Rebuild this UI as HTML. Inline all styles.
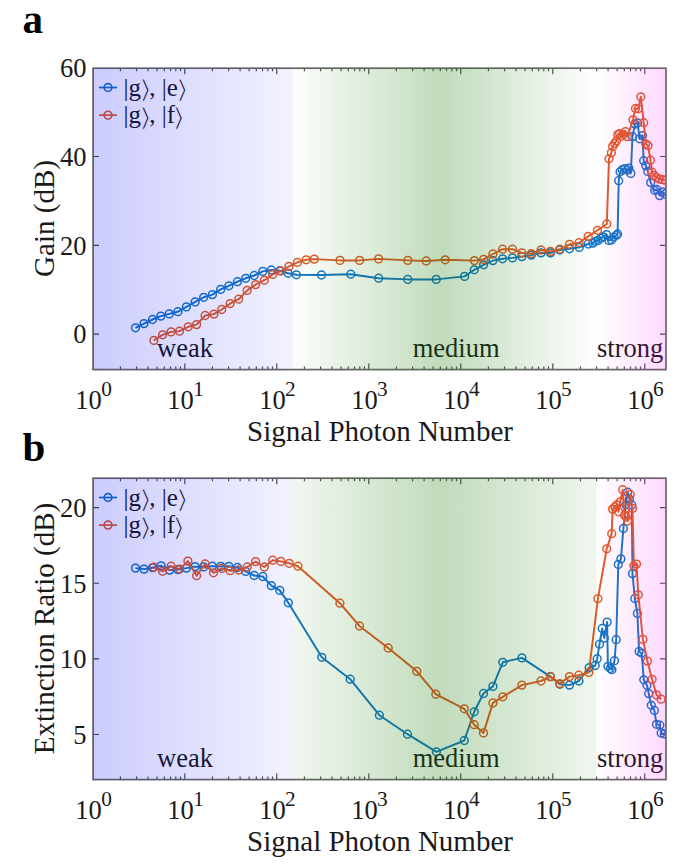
<!DOCTYPE html>
<html><head><meta charset="utf-8"><title>Figure</title>
<style>html,body{margin:0;padding:0;background:#fff}svg{display:block}</style></head>
<body>
<svg width="684" height="866" viewBox="0 0 684 866">
<defs>
<linearGradient id="gb" x1="0" x2="1" y1="0" y2="0"><stop offset="0" stop-color="#0000fa" stop-opacity="0.2"/><stop offset="1" stop-color="#0000fa" stop-opacity="0.05"/></linearGradient>
<linearGradient id="gg1" x1="0" x2="1" y1="0" y2="0"><stop offset="0" stop-color="#147800" stop-opacity="0.01"/><stop offset="0.49" stop-color="#147800" stop-opacity="0.265"/><stop offset="1" stop-color="#147800" stop-opacity="0"/></linearGradient>
<linearGradient id="gg2" x1="0" x2="1" y1="0" y2="0"><stop offset="0" stop-color="#147800" stop-opacity="0.06"/><stop offset="0.49" stop-color="#147800" stop-opacity="0.265"/><stop offset="1" stop-color="#147800" stop-opacity="0.065"/></linearGradient>
<linearGradient id="gp" x1="0" x2="1" y1="0" y2="0"><stop offset="0" stop-color="#ff00ff" stop-opacity="0"/><stop offset="1" stop-color="#ff00ff" stop-opacity="0.15"/></linearGradient>
<clipPath id="ca"><rect x="93.0" y="68.2" width="572.9" height="301.4"/></clipPath><clipPath id="cb"><rect x="93.0" y="478.2" width="572.9" height="301.4"/></clipPath>
</defs>
<style>
text{font-family:"Liberation Serif","DejaVu Serif",serif;fill:#1a1a1a}
.tk{font-size:26.5px}
.lb{font-size:29px}
.lg{font-size:25px}
.rg{font-size:26.5px}
.pn{font-size:41px;font-weight:bold;fill:#000}
.kt{font-family:"DejaVu Sans",sans-serif;font-size:25px;stroke:#fff;stroke-width:1.0px}
</style>
<rect width="684" height="866" fill="#fff"/>
<g stroke="#474747" stroke-width="1.15" fill="none"><path d="M120.4 369.6v-3M120.4 68.2v3"/><path d="M136.6 369.6v-3M136.6 68.2v3"/><path d="M148.1 369.6v-3M148.1 68.2v3"/><path d="M157.1 369.6v-3M157.1 68.2v3"/><path d="M164.3 369.6v-3M164.3 68.2v3"/><path d="M170.5 369.6v-3M170.5 68.2v3"/><path d="M175.8 369.6v-3M175.8 68.2v3"/><path d="M180.5 369.6v-3M180.5 68.2v3"/><path d="M184.8 369.6v-6M184.8 68.2v6"/><path d="M212.4 369.6v-3M212.4 68.2v3"/><path d="M228.6 369.6v-3M228.6 68.2v3"/><path d="M240.1 369.6v-3M240.1 68.2v3"/><path d="M249.1 369.6v-3M249.1 68.2v3"/><path d="M256.3 369.6v-3M256.3 68.2v3"/><path d="M262.5 369.6v-3M262.5 68.2v3"/><path d="M267.8 369.6v-3M267.8 68.2v3"/><path d="M272.5 369.6v-3M272.5 68.2v3"/><path d="M276.8 369.6v-6M276.8 68.2v6"/><path d="M304.4 369.6v-3M304.4 68.2v3"/><path d="M320.6 369.6v-3M320.6 68.2v3"/><path d="M332.1 369.6v-3M332.1 68.2v3"/><path d="M341.1 369.6v-3M341.1 68.2v3"/><path d="M348.3 369.6v-3M348.3 68.2v3"/><path d="M354.5 369.6v-3M354.5 68.2v3"/><path d="M359.8 369.6v-3M359.8 68.2v3"/><path d="M364.5 369.6v-3M364.5 68.2v3"/><path d="M368.8 369.6v-6M368.8 68.2v6"/><path d="M396.4 369.6v-3M396.4 68.2v3"/><path d="M412.6 369.6v-3M412.6 68.2v3"/><path d="M424.1 369.6v-3M424.1 68.2v3"/><path d="M433.1 369.6v-3M433.1 68.2v3"/><path d="M440.3 369.6v-3M440.3 68.2v3"/><path d="M446.5 369.6v-3M446.5 68.2v3"/><path d="M451.8 369.6v-3M451.8 68.2v3"/><path d="M456.5 369.6v-3M456.5 68.2v3"/><path d="M460.8 369.6v-6M460.8 68.2v6"/><path d="M488.4 369.6v-3M488.4 68.2v3"/><path d="M504.6 369.6v-3M504.6 68.2v3"/><path d="M516.1 369.6v-3M516.1 68.2v3"/><path d="M525.1 369.6v-3M525.1 68.2v3"/><path d="M532.3 369.6v-3M532.3 68.2v3"/><path d="M538.5 369.6v-3M538.5 68.2v3"/><path d="M543.8 369.6v-3M543.8 68.2v3"/><path d="M548.5 369.6v-3M548.5 68.2v3"/><path d="M552.8 369.6v-6M552.8 68.2v6"/><path d="M580.4 369.6v-3M580.4 68.2v3"/><path d="M596.6 369.6v-3M596.6 68.2v3"/><path d="M608.1 369.6v-3M608.1 68.2v3"/><path d="M617.1 369.6v-3M617.1 68.2v3"/><path d="M624.3 369.6v-3M624.3 68.2v3"/><path d="M630.5 369.6v-3M630.5 68.2v3"/><path d="M635.8 369.6v-3M635.8 68.2v3"/><path d="M640.5 369.6v-3M640.5 68.2v3"/><path d="M644.8 369.6v-6M644.8 68.2v6"/><path d="M93.0 334.1h6M666.0 334.1h-6"/><path d="M93.0 245.3h6M666.0 245.3h-6"/><path d="M93.0 156.5h6M666.0 156.5h-6"/></g>
<rect x="93.05" y="68.20" width="572.90" height="301.40" fill="none" stroke="#666" stroke-width="1.7"/>
<g clip-path="url(#ca)"><polyline fill="none" stroke="#1276c6" stroke-width="1.95" stroke-linejoin="round" points="135.5,327.8 144.0,323.6 152.5,319.5 160.8,316.1 169.3,313.9 177.9,311.7 186.4,306.9 195.2,301.9 203.7,297.3 212.4,294.6 220.7,289.4 228.9,285.8 237.4,281.7 245.7,278.3 254.2,275.5 262.8,271.4 271.3,270.0 279.8,270.7 288.1,273.3 296.4,274.8 321.5,275.0 350.8,274.2 378.6,278.2 407.8,279.4 436.2,279.4 464.6,276.4 474.3,269.8 483.6,264.8 492.9,260.6 502.6,258.8 512.5,257.9 521.9,256.6 531.3,255.1 541.0,252.9 550.4,252.9 559.8,250.0 569.5,248.8 579.3,247.4 588.3,244.0 592.8,243.1 595.4,241.3 598.1,240.4 600.7,238.2 603.3,236.9 606.5,234.6 608.8,240.4 611.5,240.0 613.9,237.0 616.5,235.2 617.6,234.0 618.7,180.7 620.1,171.8 622.2,169.7 624.7,168.6 627.1,170.2 628.9,168.2 630.8,173.4 632.5,136.6 635.0,124.1 637.6,123.0 639.6,138.8 642.5,135.6 643.7,160.7 645.7,165.6 647.8,171.4 650.7,182.6 654.7,190.4 656.8,189.5 659.6,195.6 662.6,191.9 664.9,194.0"/>
<g fill="none" stroke="#1276c6" stroke-width="1.5"><circle cx="135.5" cy="327.8" r="3.9"/><circle cx="144.0" cy="323.6" r="3.9"/><circle cx="152.5" cy="319.5" r="3.9"/><circle cx="160.8" cy="316.1" r="3.9"/><circle cx="169.3" cy="313.9" r="3.9"/><circle cx="177.9" cy="311.7" r="3.9"/><circle cx="186.4" cy="306.9" r="3.9"/><circle cx="195.2" cy="301.9" r="3.9"/><circle cx="203.7" cy="297.3" r="3.9"/><circle cx="212.4" cy="294.6" r="3.9"/><circle cx="220.7" cy="289.4" r="3.9"/><circle cx="228.9" cy="285.8" r="3.9"/><circle cx="237.4" cy="281.7" r="3.9"/><circle cx="245.7" cy="278.3" r="3.9"/><circle cx="254.2" cy="275.5" r="3.9"/><circle cx="262.8" cy="271.4" r="3.9"/><circle cx="271.3" cy="270.0" r="3.9"/><circle cx="279.8" cy="270.7" r="3.9"/><circle cx="288.1" cy="273.3" r="3.9"/><circle cx="296.4" cy="274.8" r="3.9"/><circle cx="321.5" cy="275.0" r="3.9"/><circle cx="350.8" cy="274.2" r="3.9"/><circle cx="378.6" cy="278.2" r="3.9"/><circle cx="407.8" cy="279.4" r="3.9"/><circle cx="436.2" cy="279.4" r="3.9"/><circle cx="464.6" cy="276.4" r="3.9"/><circle cx="474.3" cy="269.8" r="3.9"/><circle cx="483.6" cy="264.8" r="3.9"/><circle cx="492.9" cy="260.6" r="3.9"/><circle cx="502.6" cy="258.8" r="3.9"/><circle cx="512.5" cy="257.9" r="3.9"/><circle cx="521.9" cy="256.6" r="3.9"/><circle cx="531.3" cy="255.1" r="3.9"/><circle cx="541.0" cy="252.9" r="3.9"/><circle cx="550.4" cy="252.9" r="3.9"/><circle cx="559.8" cy="250.0" r="3.9"/><circle cx="569.5" cy="248.8" r="3.9"/><circle cx="579.3" cy="247.4" r="3.9"/><circle cx="588.3" cy="244.0" r="3.9"/><circle cx="592.8" cy="243.1" r="3.9"/><circle cx="595.4" cy="241.3" r="3.9"/><circle cx="598.1" cy="240.4" r="3.9"/><circle cx="600.7" cy="238.2" r="3.9"/><circle cx="603.3" cy="236.9" r="3.9"/><circle cx="606.5" cy="234.6" r="3.9"/><circle cx="608.8" cy="240.4" r="3.9"/><circle cx="611.5" cy="240.0" r="3.9"/><circle cx="613.9" cy="237.0" r="3.9"/><circle cx="616.5" cy="235.2" r="3.9"/><circle cx="617.6" cy="234.0" r="3.9"/><circle cx="618.7" cy="180.7" r="3.9"/><circle cx="620.1" cy="171.8" r="3.9"/><circle cx="622.2" cy="169.7" r="3.9"/><circle cx="624.7" cy="168.6" r="3.9"/><circle cx="627.1" cy="170.2" r="3.9"/><circle cx="628.9" cy="168.2" r="3.9"/><circle cx="630.8" cy="173.4" r="3.9"/><circle cx="632.5" cy="136.6" r="3.9"/><circle cx="635.0" cy="124.1" r="3.9"/><circle cx="637.6" cy="123.0" r="3.9"/><circle cx="639.6" cy="138.8" r="3.9"/><circle cx="642.5" cy="135.6" r="3.9"/><circle cx="643.7" cy="160.7" r="3.9"/><circle cx="645.7" cy="165.6" r="3.9"/><circle cx="647.8" cy="171.4" r="3.9"/><circle cx="650.7" cy="182.6" r="3.9"/><circle cx="654.7" cy="190.4" r="3.9"/><circle cx="656.8" cy="189.5" r="3.9"/><circle cx="659.6" cy="195.6" r="3.9"/><circle cx="662.6" cy="191.9" r="3.9"/><circle cx="664.9" cy="194.0" r="3.9"/></g>
<polyline fill="none" stroke="#e05a25" stroke-width="1.95" stroke-linejoin="round" points="153.9,340.4 162.6,334.8 171.1,331.9 179.5,331.2 188.2,326.8 196.6,324.6 205.1,315.5 213.9,314.1 221.7,309.5 230.1,303.6 238.7,299.2 247.2,290.4 255.6,284.6 264.3,280.2 272.7,274.4 280.8,271.0 289.0,266.4 297.4,262.4 306.2,259.8 314.3,259.1 340.0,260.4 359.6,260.4 378.6,258.9 407.8,260.4 426.2,261.0 445.2,259.8 474.4,260.6 483.6,259.4 492.9,254.0 502.6,249.2 512.5,249.2 521.9,252.9 531.3,253.6 541.0,250.0 550.4,251.4 559.8,249.2 569.5,244.3 579.0,242.7 588.2,236.4 597.5,230.3 606.8,224.0 609.0,158.8 611.4,152.7 612.7,146.4 614.7,143.4 616.5,140.8 617.8,134.6 619.6,133.6 621.3,136.3 623.4,134.3 625.4,131.7 627.5,136.6 633.0,119.8 635.5,108.5 638.2,108.8 640.8,96.8 643.7,122.7 645.7,143.8 648.0,145.6 650.5,160.2 652.0,172.2 654.0,175.4 656.4,177.5 659.3,179.0 662.6,179.7 665.5,180.4"/>
<g fill="none" stroke="#e05a25" stroke-width="1.5"><circle cx="153.9" cy="340.4" r="3.9"/><circle cx="162.6" cy="334.8" r="3.9"/><circle cx="171.1" cy="331.9" r="3.9"/><circle cx="179.5" cy="331.2" r="3.9"/><circle cx="188.2" cy="326.8" r="3.9"/><circle cx="196.6" cy="324.6" r="3.9"/><circle cx="205.1" cy="315.5" r="3.9"/><circle cx="213.9" cy="314.1" r="3.9"/><circle cx="221.7" cy="309.5" r="3.9"/><circle cx="230.1" cy="303.6" r="3.9"/><circle cx="238.7" cy="299.2" r="3.9"/><circle cx="247.2" cy="290.4" r="3.9"/><circle cx="255.6" cy="284.6" r="3.9"/><circle cx="264.3" cy="280.2" r="3.9"/><circle cx="272.7" cy="274.4" r="3.9"/><circle cx="280.8" cy="271.0" r="3.9"/><circle cx="289.0" cy="266.4" r="3.9"/><circle cx="297.4" cy="262.4" r="3.9"/><circle cx="306.2" cy="259.8" r="3.9"/><circle cx="314.3" cy="259.1" r="3.9"/><circle cx="340.0" cy="260.4" r="3.9"/><circle cx="359.6" cy="260.4" r="3.9"/><circle cx="378.6" cy="258.9" r="3.9"/><circle cx="407.8" cy="260.4" r="3.9"/><circle cx="426.2" cy="261.0" r="3.9"/><circle cx="445.2" cy="259.8" r="3.9"/><circle cx="474.4" cy="260.6" r="3.9"/><circle cx="483.6" cy="259.4" r="3.9"/><circle cx="492.9" cy="254.0" r="3.9"/><circle cx="502.6" cy="249.2" r="3.9"/><circle cx="512.5" cy="249.2" r="3.9"/><circle cx="521.9" cy="252.9" r="3.9"/><circle cx="531.3" cy="253.6" r="3.9"/><circle cx="541.0" cy="250.0" r="3.9"/><circle cx="550.4" cy="251.4" r="3.9"/><circle cx="559.8" cy="249.2" r="3.9"/><circle cx="569.5" cy="244.3" r="3.9"/><circle cx="579.0" cy="242.7" r="3.9"/><circle cx="588.2" cy="236.4" r="3.9"/><circle cx="597.5" cy="230.3" r="3.9"/><circle cx="606.8" cy="224.0" r="3.9"/><circle cx="609.0" cy="158.8" r="3.9"/><circle cx="611.4" cy="152.7" r="3.9"/><circle cx="612.7" cy="146.4" r="3.9"/><circle cx="614.7" cy="143.4" r="3.9"/><circle cx="616.5" cy="140.8" r="3.9"/><circle cx="617.8" cy="134.6" r="3.9"/><circle cx="619.6" cy="133.6" r="3.9"/><circle cx="621.3" cy="136.3" r="3.9"/><circle cx="623.4" cy="134.3" r="3.9"/><circle cx="625.4" cy="131.7" r="3.9"/><circle cx="627.5" cy="136.6" r="3.9"/><circle cx="633.0" cy="119.8" r="3.9"/><circle cx="635.5" cy="108.5" r="3.9"/><circle cx="638.2" cy="108.8" r="3.9"/><circle cx="640.8" cy="96.8" r="3.9"/><circle cx="643.7" cy="122.7" r="3.9"/><circle cx="645.7" cy="143.8" r="3.9"/><circle cx="648.0" cy="145.6" r="3.9"/><circle cx="650.5" cy="160.2" r="3.9"/><circle cx="652.0" cy="172.2" r="3.9"/><circle cx="654.0" cy="175.4" r="3.9"/><circle cx="656.4" cy="177.5" r="3.9"/><circle cx="659.3" cy="179.0" r="3.9"/><circle cx="662.6" cy="179.7" r="3.9"/><circle cx="665.5" cy="180.4" r="3.9"/></g>
</g>
<text x="86.5" y="343.4" class="tk" text-anchor="end">0</text><text x="86.5" y="254.6" class="tk" text-anchor="end">20</text><text x="86.5" y="165.8" class="tk" text-anchor="end">40</text><text x="86.5" y="77.0" class="tk" text-anchor="end">60</text>
<text x="75.2" y="409.0" class="tk">10<tspan x="101.2" y="395.5" font-size="21.3">0</tspan></text><text x="167.2" y="409.0" class="tk">10<tspan x="193.2" y="395.5" font-size="21.3">1</tspan></text><text x="259.2" y="409.0" class="tk">10<tspan x="285.1" y="395.5" font-size="21.3">2</tspan></text><text x="351.2" y="409.0" class="tk">10<tspan x="377.1" y="395.5" font-size="21.3">3</tspan></text><text x="443.2" y="409.0" class="tk">10<tspan x="469.1" y="395.5" font-size="21.3">4</tspan></text><text x="535.2" y="409.0" class="tk">10<tspan x="561.1" y="395.5" font-size="21.3">5</tspan></text><text x="627.2" y="409.0" class="tk">10<tspan x="653.1" y="395.5" font-size="21.3">6</tspan></text>
<path d="M99 87.5h18" stroke="#1276c6" stroke-width="1.7" fill="none"/><circle cx="108" cy="87.5" r="3.9" fill="none" stroke="#1276c6" stroke-width="1.65"/><text x="123.5" y="95.8" class="lg">|g</text><text transform="translate(138.8 98.0) scale(1.4 1)" class="kt">⟩</text><text x="149.3" y="95.8" class="lg">, |e</text><text transform="translate(175.6 98.0) scale(1.4 1)" class="kt">⟩</text><path d="M99 115.1h18" stroke="#e05a25" stroke-width="1.7" fill="none"/><circle cx="108" cy="115.1" r="3.9" fill="none" stroke="#e05a25" stroke-width="1.65"/><text x="123.5" y="123.4" class="lg">|g</text><text transform="translate(138.8 125.6) scale(1.4 1)" class="kt">⟩</text><text x="149.3" y="123.4" class="lg">, |f</text><text transform="translate(172.0 125.6) scale(1.4 1)" class="kt">⟩</text>
<text x="157" y="357.4" class="rg">weak</text><text x="412.7" y="357.4" class="rg">medium</text><text x="597" y="357.4" class="rg">strong</text>
<rect x="93.0" y="68.2" width="199.9" height="301.4" fill="url(#gb)"/><rect x="293" y="68.2" width="303.5" height="301.4" fill="url(#gg1)"/><rect x="596.5" y="68.2" width="69.5" height="301.4" fill="url(#gp)"/>
<text x="380" y="440.7" class="lb" text-anchor="middle">Signal Photon Number</text>
<text transform="translate(53.5 218.5) rotate(-90)" class="lb" text-anchor="middle">Gain (dB)</text>
<text x="22.5" y="32.7" class="pn">a</text>
<g stroke="#474747" stroke-width="1.15" fill="none"><path d="M120.4 779.6v-3M120.4 478.2v3"/><path d="M136.6 779.6v-3M136.6 478.2v3"/><path d="M148.1 779.6v-3M148.1 478.2v3"/><path d="M157.1 779.6v-3M157.1 478.2v3"/><path d="M164.3 779.6v-3M164.3 478.2v3"/><path d="M170.5 779.6v-3M170.5 478.2v3"/><path d="M175.8 779.6v-3M175.8 478.2v3"/><path d="M180.5 779.6v-3M180.5 478.2v3"/><path d="M184.8 779.6v-6M184.8 478.2v6"/><path d="M212.4 779.6v-3M212.4 478.2v3"/><path d="M228.6 779.6v-3M228.6 478.2v3"/><path d="M240.1 779.6v-3M240.1 478.2v3"/><path d="M249.1 779.6v-3M249.1 478.2v3"/><path d="M256.3 779.6v-3M256.3 478.2v3"/><path d="M262.5 779.6v-3M262.5 478.2v3"/><path d="M267.8 779.6v-3M267.8 478.2v3"/><path d="M272.5 779.6v-3M272.5 478.2v3"/><path d="M276.8 779.6v-6M276.8 478.2v6"/><path d="M304.4 779.6v-3M304.4 478.2v3"/><path d="M320.6 779.6v-3M320.6 478.2v3"/><path d="M332.1 779.6v-3M332.1 478.2v3"/><path d="M341.1 779.6v-3M341.1 478.2v3"/><path d="M348.3 779.6v-3M348.3 478.2v3"/><path d="M354.5 779.6v-3M354.5 478.2v3"/><path d="M359.8 779.6v-3M359.8 478.2v3"/><path d="M364.5 779.6v-3M364.5 478.2v3"/><path d="M368.8 779.6v-6M368.8 478.2v6"/><path d="M396.4 779.6v-3M396.4 478.2v3"/><path d="M412.6 779.6v-3M412.6 478.2v3"/><path d="M424.1 779.6v-3M424.1 478.2v3"/><path d="M433.1 779.6v-3M433.1 478.2v3"/><path d="M440.3 779.6v-3M440.3 478.2v3"/><path d="M446.5 779.6v-3M446.5 478.2v3"/><path d="M451.8 779.6v-3M451.8 478.2v3"/><path d="M456.5 779.6v-3M456.5 478.2v3"/><path d="M460.8 779.6v-6M460.8 478.2v6"/><path d="M488.4 779.6v-3M488.4 478.2v3"/><path d="M504.6 779.6v-3M504.6 478.2v3"/><path d="M516.1 779.6v-3M516.1 478.2v3"/><path d="M525.1 779.6v-3M525.1 478.2v3"/><path d="M532.3 779.6v-3M532.3 478.2v3"/><path d="M538.5 779.6v-3M538.5 478.2v3"/><path d="M543.8 779.6v-3M543.8 478.2v3"/><path d="M548.5 779.6v-3M548.5 478.2v3"/><path d="M552.8 779.6v-6M552.8 478.2v6"/><path d="M580.4 779.6v-3M580.4 478.2v3"/><path d="M596.6 779.6v-3M596.6 478.2v3"/><path d="M608.1 779.6v-3M608.1 478.2v3"/><path d="M617.1 779.6v-3M617.1 478.2v3"/><path d="M624.3 779.6v-3M624.3 478.2v3"/><path d="M630.5 779.6v-3M630.5 478.2v3"/><path d="M635.8 779.6v-3M635.8 478.2v3"/><path d="M640.5 779.6v-3M640.5 478.2v3"/><path d="M644.8 779.6v-6M644.8 478.2v6"/><path d="M93.0 734.5h6M666.0 734.5h-6"/><path d="M93.0 658.9h6M666.0 658.9h-6"/><path d="M93.0 583.2h6M666.0 583.2h-6"/><path d="M93.0 507.6h6M666.0 507.6h-6"/></g>
<rect x="93.05" y="478.20" width="572.90" height="301.40" fill="none" stroke="#666" stroke-width="1.7"/>
<g clip-path="url(#cb)"><polyline fill="none" stroke="#1276c6" stroke-width="1.95" stroke-linejoin="round" points="135.5,568.1 144.0,569.1 152.5,567.7 161.1,565.8 169.6,570.1 177.9,569.6 186.4,568.1 195.2,566.6 203.7,566.9 212.3,566.2 220.7,566.4 228.9,566.3 237.4,567.5 245.7,571.4 254.2,575.5 262.8,576.5 271.3,585.6 279.8,590.4 288.3,602.8 321.8,657.3 350.2,679.2 379.4,715.2 407.5,734.2 436.4,751.8 464.3,740.5 474.2,711.8 483.5,693.5 492.9,686.4 502.8,662.3 521.9,657.9 550.4,676.6 559.8,684.3 569.5,685.1 578.9,681.0 589.2,667.6 595.2,665.5 597.2,658.7 599.5,644.2 602.2,628.5 604.3,638.0 607.1,622.1 607.9,666.3 610.3,668.5 611.9,669.7 614.5,660.7 616.2,639.7 618.3,564.4 620.9,558.9 623.4,528.5 625.7,504.8 627.6,492.2 629.4,499.1 631.8,505.0 632.5,573.6 634.8,598.5 637.4,613.5 639.1,651.5 641.7,653.3 643.8,679.8 646.9,685.3 648.7,693.6 651.3,705.3 654.4,710.5 656.5,724.3 659.9,725.2 661.1,733.0 664.3,733.9"/>
<g fill="none" stroke="#1276c6" stroke-width="1.5"><circle cx="135.5" cy="568.1" r="3.9"/><circle cx="144.0" cy="569.1" r="3.9"/><circle cx="152.5" cy="567.7" r="3.9"/><circle cx="161.1" cy="565.8" r="3.9"/><circle cx="169.6" cy="570.1" r="3.9"/><circle cx="177.9" cy="569.6" r="3.9"/><circle cx="186.4" cy="568.1" r="3.9"/><circle cx="195.2" cy="566.6" r="3.9"/><circle cx="203.7" cy="566.9" r="3.9"/><circle cx="212.3" cy="566.2" r="3.9"/><circle cx="220.7" cy="566.4" r="3.9"/><circle cx="228.9" cy="566.3" r="3.9"/><circle cx="237.4" cy="567.5" r="3.9"/><circle cx="245.7" cy="571.4" r="3.9"/><circle cx="254.2" cy="575.5" r="3.9"/><circle cx="262.8" cy="576.5" r="3.9"/><circle cx="271.3" cy="585.6" r="3.9"/><circle cx="279.8" cy="590.4" r="3.9"/><circle cx="288.3" cy="602.8" r="3.9"/><circle cx="321.8" cy="657.3" r="3.9"/><circle cx="350.2" cy="679.2" r="3.9"/><circle cx="379.4" cy="715.2" r="3.9"/><circle cx="407.5" cy="734.2" r="3.9"/><circle cx="436.4" cy="751.8" r="3.9"/><circle cx="464.3" cy="740.5" r="3.9"/><circle cx="474.2" cy="711.8" r="3.9"/><circle cx="483.5" cy="693.5" r="3.9"/><circle cx="492.9" cy="686.4" r="3.9"/><circle cx="502.8" cy="662.3" r="3.9"/><circle cx="521.9" cy="657.9" r="3.9"/><circle cx="550.4" cy="676.6" r="3.9"/><circle cx="559.8" cy="684.3" r="3.9"/><circle cx="569.5" cy="685.1" r="3.9"/><circle cx="578.9" cy="681.0" r="3.9"/><circle cx="589.2" cy="667.6" r="3.9"/><circle cx="595.2" cy="665.5" r="3.9"/><circle cx="597.2" cy="658.7" r="3.9"/><circle cx="599.5" cy="644.2" r="3.9"/><circle cx="602.2" cy="628.5" r="3.9"/><circle cx="604.3" cy="638.0" r="3.9"/><circle cx="607.1" cy="622.1" r="3.9"/><circle cx="607.9" cy="666.3" r="3.9"/><circle cx="610.3" cy="668.5" r="3.9"/><circle cx="611.9" cy="669.7" r="3.9"/><circle cx="614.5" cy="660.7" r="3.9"/><circle cx="616.2" cy="639.7" r="3.9"/><circle cx="618.3" cy="564.4" r="3.9"/><circle cx="620.9" cy="558.9" r="3.9"/><circle cx="623.4" cy="528.5" r="3.9"/><circle cx="625.7" cy="504.8" r="3.9"/><circle cx="627.6" cy="492.2" r="3.9"/><circle cx="629.4" cy="499.1" r="3.9"/><circle cx="631.8" cy="505.0" r="3.9"/><circle cx="632.5" cy="573.6" r="3.9"/><circle cx="634.8" cy="598.5" r="3.9"/><circle cx="637.4" cy="613.5" r="3.9"/><circle cx="639.1" cy="651.5" r="3.9"/><circle cx="641.7" cy="653.3" r="3.9"/><circle cx="643.8" cy="679.8" r="3.9"/><circle cx="646.9" cy="685.3" r="3.9"/><circle cx="648.7" cy="693.6" r="3.9"/><circle cx="651.3" cy="705.3" r="3.9"/><circle cx="654.4" cy="710.5" r="3.9"/><circle cx="656.5" cy="724.3" r="3.9"/><circle cx="659.9" cy="725.2" r="3.9"/><circle cx="661.1" cy="733.0" r="3.9"/><circle cx="664.3" cy="733.9" r="3.9"/></g>
<polyline fill="none" stroke="#e05a25" stroke-width="1.95" stroke-linejoin="round" points="153.9,567.2 162.6,571.3 171.1,566.2 179.5,569.1 187.9,561.1 196.6,575.7 205.1,564.0 213.5,572.8 221.7,568.4 230.1,570.7 238.7,570.0 247.2,567.0 255.6,561.6 264.3,567.0 272.7,560.2 280.9,561.4 289.3,563.3 298.0,566.2 339.9,603.2 359.5,626.0 388.2,648.0 416.8,671.3 435.8,694.2 464.3,708.8 474.2,724.7 483.5,732.9 492.9,702.9 502.8,696.8 521.9,685.1 541.0,681.0 550.4,676.6 559.8,683.6 569.5,676.6 578.8,675.2 588.8,672.4 597.9,598.7 606.7,548.8 611.7,533.7 612.6,509.1 614.9,507.0 616.7,505.0 618.5,511.8 620.2,501.8 622.7,489.7 624.5,515.2 626.2,517.0 627.6,521.0 630.2,494.5 632.5,508.5 633.9,565.8 636.5,564.1 638.3,594.8 642.9,639.4 647.4,661.1 652.1,679.3 656.5,694.9 661.1,699.2"/>
<g fill="none" stroke="#e05a25" stroke-width="1.5"><circle cx="153.9" cy="567.2" r="3.9"/><circle cx="162.6" cy="571.3" r="3.9"/><circle cx="171.1" cy="566.2" r="3.9"/><circle cx="179.5" cy="569.1" r="3.9"/><circle cx="187.9" cy="561.1" r="3.9"/><circle cx="196.6" cy="575.7" r="3.9"/><circle cx="205.1" cy="564.0" r="3.9"/><circle cx="213.5" cy="572.8" r="3.9"/><circle cx="221.7" cy="568.4" r="3.9"/><circle cx="230.1" cy="570.7" r="3.9"/><circle cx="238.7" cy="570.0" r="3.9"/><circle cx="247.2" cy="567.0" r="3.9"/><circle cx="255.6" cy="561.6" r="3.9"/><circle cx="264.3" cy="567.0" r="3.9"/><circle cx="272.7" cy="560.2" r="3.9"/><circle cx="280.9" cy="561.4" r="3.9"/><circle cx="289.3" cy="563.3" r="3.9"/><circle cx="298.0" cy="566.2" r="3.9"/><circle cx="339.9" cy="603.2" r="3.9"/><circle cx="359.5" cy="626.0" r="3.9"/><circle cx="388.2" cy="648.0" r="3.9"/><circle cx="416.8" cy="671.3" r="3.9"/><circle cx="435.8" cy="694.2" r="3.9"/><circle cx="464.3" cy="708.8" r="3.9"/><circle cx="474.2" cy="724.7" r="3.9"/><circle cx="483.5" cy="732.9" r="3.9"/><circle cx="492.9" cy="702.9" r="3.9"/><circle cx="502.8" cy="696.8" r="3.9"/><circle cx="521.9" cy="685.1" r="3.9"/><circle cx="541.0" cy="681.0" r="3.9"/><circle cx="550.4" cy="676.6" r="3.9"/><circle cx="559.8" cy="683.6" r="3.9"/><circle cx="569.5" cy="676.6" r="3.9"/><circle cx="578.8" cy="675.2" r="3.9"/><circle cx="588.8" cy="672.4" r="3.9"/><circle cx="597.9" cy="598.7" r="3.9"/><circle cx="606.7" cy="548.8" r="3.9"/><circle cx="611.7" cy="533.7" r="3.9"/><circle cx="612.6" cy="509.1" r="3.9"/><circle cx="614.9" cy="507.0" r="3.9"/><circle cx="616.7" cy="505.0" r="3.9"/><circle cx="618.5" cy="511.8" r="3.9"/><circle cx="620.2" cy="501.8" r="3.9"/><circle cx="622.7" cy="489.7" r="3.9"/><circle cx="624.5" cy="515.2" r="3.9"/><circle cx="626.2" cy="517.0" r="3.9"/><circle cx="627.6" cy="521.0" r="3.9"/><circle cx="630.2" cy="494.5" r="3.9"/><circle cx="632.5" cy="508.5" r="3.9"/><circle cx="633.9" cy="565.8" r="3.9"/><circle cx="636.5" cy="564.1" r="3.9"/><circle cx="638.3" cy="594.8" r="3.9"/><circle cx="642.9" cy="639.4" r="3.9"/><circle cx="647.4" cy="661.1" r="3.9"/><circle cx="652.1" cy="679.3" r="3.9"/><circle cx="656.5" cy="694.9" r="3.9"/><circle cx="661.1" cy="699.2" r="3.9"/></g>
</g>
<text x="86.5" y="743.8" class="tk" text-anchor="end">5</text><text x="86.5" y="668.1" class="tk" text-anchor="end">10</text><text x="86.5" y="592.5" class="tk" text-anchor="end">15</text><text x="86.5" y="516.9" class="tk" text-anchor="end">20</text>
<text x="75.2" y="819.0" class="tk">10<tspan x="101.2" y="805.5" font-size="21.3">0</tspan></text><text x="167.2" y="819.0" class="tk">10<tspan x="193.2" y="805.5" font-size="21.3">1</tspan></text><text x="259.2" y="819.0" class="tk">10<tspan x="285.1" y="805.5" font-size="21.3">2</tspan></text><text x="351.2" y="819.0" class="tk">10<tspan x="377.1" y="805.5" font-size="21.3">3</tspan></text><text x="443.2" y="819.0" class="tk">10<tspan x="469.1" y="805.5" font-size="21.3">4</tspan></text><text x="535.2" y="819.0" class="tk">10<tspan x="561.1" y="805.5" font-size="21.3">5</tspan></text><text x="627.2" y="819.0" class="tk">10<tspan x="653.1" y="805.5" font-size="21.3">6</tspan></text>
<path d="M99 497.5h18" stroke="#1276c6" stroke-width="1.7" fill="none"/><circle cx="108" cy="497.5" r="3.9" fill="none" stroke="#1276c6" stroke-width="1.65"/><text x="123.5" y="505.8" class="lg">|g</text><text transform="translate(138.8 508.0) scale(1.4 1)" class="kt">⟩</text><text x="149.3" y="505.8" class="lg">, |e</text><text transform="translate(175.6 508.0) scale(1.4 1)" class="kt">⟩</text><path d="M99 525.1h18" stroke="#e05a25" stroke-width="1.7" fill="none"/><circle cx="108" cy="525.1" r="3.9" fill="none" stroke="#e05a25" stroke-width="1.65"/><text x="123.5" y="533.4" class="lg">|g</text><text transform="translate(138.8 535.6) scale(1.4 1)" class="kt">⟩</text><text x="149.3" y="533.4" class="lg">, |f</text><text transform="translate(172.0 535.6) scale(1.4 1)" class="kt">⟩</text>
<text x="157" y="767.4" class="rg">weak</text><text x="412.7" y="767.4" class="rg">medium</text><text x="597" y="767.4" class="rg">strong</text>
<rect x="93.0" y="478.2" width="199.9" height="301.4" fill="url(#gb)"/><rect x="293" y="478.2" width="303.5" height="301.4" fill="url(#gg2)"/><rect x="596.5" y="478.2" width="69.5" height="301.4" fill="url(#gp)"/>
<text x="380" y="850.5" class="lb" text-anchor="middle">Signal Photon Number</text>
<text transform="translate(53.5 628.5) rotate(-90)" class="lb" text-anchor="middle">Extinction Ratio (dB)</text>
<text x="22.5" y="460.8" class="pn">b</text>
</svg>
</body></html>
